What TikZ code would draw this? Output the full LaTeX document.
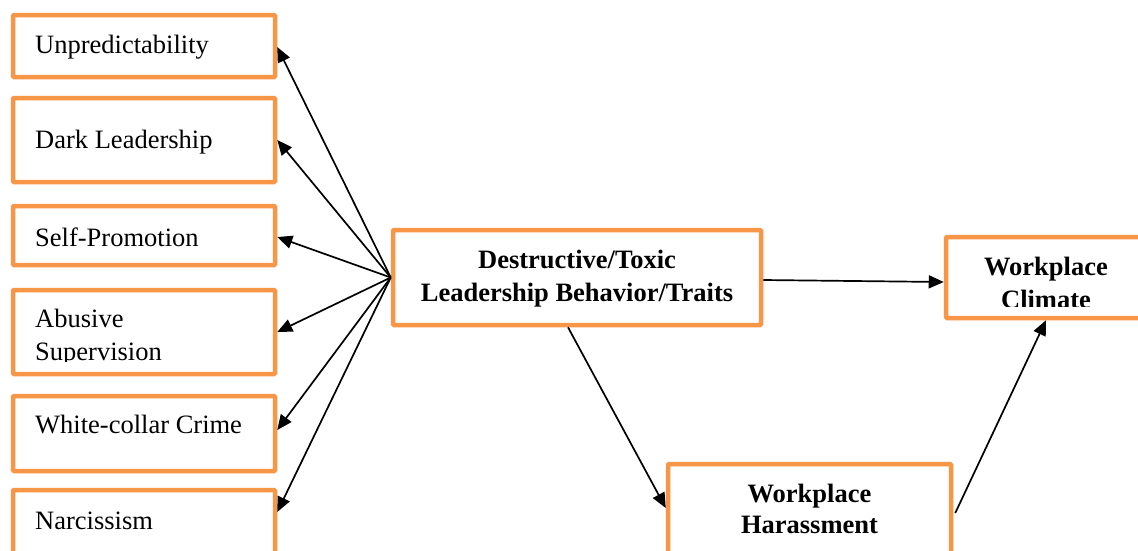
\documentclass[tikz,border=0pt]{standalone}
\usepackage{fontspec}
\setmainfont{Liberation Serif}
\usetikzlibrary{arrows.meta}
\definecolor{boxorange}{RGB}{247,150,70}
\tikzset{
  box/.style={draw=boxorange, line width=4.5pt, rounded corners=1pt, fill=white, inner sep=0pt},
  lbl/.style={inner sep=0pt, font=\fontsize{26.5}{33}\selectfont},
  blbl/.style={inner sep=0pt, font=\fontsize{26.5}{33}\selectfont\bfseries},
  conn/.style={line width=1.7pt, -{Triangle[length=15pt,width=13pt]}}
}
\begin{document}
\begin{tikzpicture}[x=1pt,y=-1pt]
\clip (0,0) rectangle (1138,550);
\fill[white] (0,0) rectangle (1138,550);
% left boxes
\node[box, minimum width=262pt, minimum height=62pt] (u) at (144,46) {};
\node[box, minimum width=262pt, minimum height=84pt] (d) at (144,140) {};
\node[box, minimum width=262pt, minimum height=59pt] (s) at (144,235.5) {};
\node[box, minimum width=262pt, minimum height=84pt] (a) at (144,332) {};
\node[box, minimum width=262pt, minimum height=75pt] (w) at (144,433.5) {};
\node[box, minimum width=262pt, minimum height=65pt] (n) at (144,522.5) {};
% center / right boxes
\node[box, minimum width=368pt, minimum height=95pt] (c) at (577,277.5) {};
\node[box, minimum width=200pt, minimum height=81pt] (k) at (1046,277.5) {};
\node[box, minimum width=283pt, minimum height=91pt] (h) at (809.5,509.5) {};
% texts
\node[lbl, anchor=base west] (tu) at (35,53) {Unpredictability};
\node[lbl, anchor=base west] (td) at (35,148) {Dark Leadership};
\node[lbl, anchor=base west] (ts) at (35,246) {Self-Promotion};
\node[lbl, anchor=base west] (ta1) at (35,327) {Abusive};
\begin{scope}
\clip (20,335) rectangle (270,361);
\node[lbl, anchor=base west] (ta2) at (35,360) {Supervision};
\end{scope}
\node[lbl, anchor=base west] (tw) at (35,433) {White-collar Crime};
\node[lbl, anchor=base west] (tn) at (35,529) {Narcissism};
\node[blbl, anchor=base] (tc1) at (577,268) {Destructive/Toxic};
\node[blbl, anchor=base] (tc2) at (577,301) {Leadership Behavior/Traits};
\node[blbl, anchor=base] (tk1) at (1046,275) {Workplace};
\begin{scope}
\clip (950,280) rectangle (1138,306);
\node[blbl, anchor=base] (tk2) at (1046,308) {Climate};
\end{scope}
\node[blbl, anchor=base] (th1) at (809.5,502) {Workplace};
\node[blbl, anchor=base] (th2) at (809.5,533) {Harassment};
% connectors
\coordinate (hub) at (c.west);
\draw[conn] (hub) -- ([yshift=-1pt]u.east);
\draw[conn] (hub) -- (d.east);
\draw[conn] (hub) -- ([yshift=-1.5pt]s.east);
\draw[conn] (hub) -- (a.east);
\draw[conn] (hub) -- ([yshift=3.5pt]w.east);
\draw[conn] (hub) -- ([yshift=10.5pt]n.east);
\draw[conn] ([yshift=-2.5pt]c.east) -- ([yshift=-4.5pt]k.west);
\draw[conn] ([xshift=-9pt]c.south) -- ([yshift=1.5pt]h.west);
\draw[conn] ([xshift=2pt,yshift=-3.5pt]h.east) -- (k.south);
\end{tikzpicture}
\end{document}
